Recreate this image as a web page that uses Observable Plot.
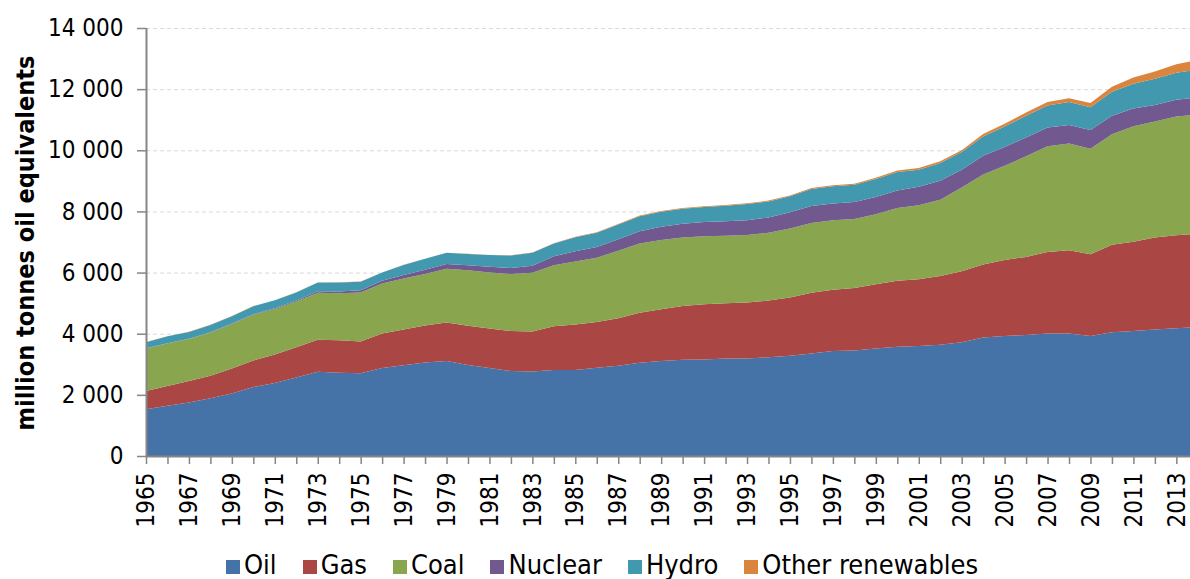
<!DOCTYPE html>
<html>
<head>
<meta charset="utf-8">
<script src="https://cdn.jsdelivr.net/npm/d3@7"></script>
<script src="https://cdn.jsdelivr.net/npm/@observablehq/plot@0.6"></script>
<style>
  html, body { margin: 0; padding: 0; background: #fff; }
  #wrap { position: relative; width: 1190px; height: 579px; overflow: hidden; background: #fff;
          font-family: "DejaVu Sans Condensed", "DejaVu Sans", sans-serif; }
  #ytitle { position: absolute; left: 25px; top: 243px; transform: translate(-50%, -50%) rotate(-90deg);
            white-space: nowrap; font-weight: bold; font-size: 25px; color: #000; }
  #legend { position: absolute; left: 226px; top: 551px; display: flex; font-size: 27px; line-height: 27px; color: #000; white-space: nowrap; }
  #legend .item { margin-right: 26px; }
  #legend .sw { display: inline-block; width: 14px; height: 14px; margin-right: 4px; vertical-align: baseline; }
</style>
</head>
<body>
<div id="wrap">
  <div id="chart"></div>
  <div id="ytitle">million tonnes oil equivalents</div>
  <div id="legend"></div>
</div>
<script>
const years = [1965,1966,1967,1968,1969,1970,1971,1972,1973,1974,1975,1976,1977,1978,1979,1980,1981,1982,1983,1984,1985,1986,1987,1988,1989,1990,1991,1992,1993,1994,1995,1996,1997,1998,1999,2000,2001,2002,2003,2004,2005,2006,2007,2008,2009,2010,2011,2012,2013,2014];

const sources = ["Oil", "Gas", "Coal", "Nuclear", "Hydro", "Other renewables"];
const colors = ["#4572A7", "#AA4643", "#89A54E", "#71588F", "#4198AF", "#DB843D"];

const oil = [1530,1645,1750,1890,2045,2255,2385,2570,2755,2725,2705,2878,2970,3055,3105,2975,2875,2780,2760,2812,2810,2885,2955,3050,3105,3150,3155,3190,3190,3230,3280,3350,3435,3455,3520,3575,3600,3640,3720,3880,3925,3960,4005,4005,3925,4050,4090,4140,4180,4211];
const gas = [600,643,700,735,815,870,935,990,1045,1065,1040,1130,1168,1210,1262,1285,1295,1305,1310,1435,1490,1495,1550,1635,1695,1755,1805,1810,1830,1855,1908,1990,2005,2038,2095,2160,2185,2245,2320,2380,2487,2553,2670,2726,2673,2857,2922,3010,3042,3066];
const coal = [1385,1396,1380,1415,1460,1495,1490,1495,1540,1530,1600,1637,1670,1690,1760,1820,1835,1865,1925,1995,2060,2105,2210,2265,2265,2240,2225,2205,2205,2215,2257,2285,2270,2260,2290,2378,2420,2500,2740,2944,3080,3290,3457,3490,3455,3620,3773,3790,3880,3900];
const nuclear = [6,8,9,12,14,18,25,32,46,57,80,90,115,135,150,162,186,200,225,290,335,350,375,405,435,455,470,475,490,505,525,550,548,553,570,575,600,615,580,620,615,615,611,605,611,605,580,540,550,560];
const hydro = [203,222,220,237,240,262,260,265,290,300,278,265,325,360,370,365,380,410,425,420,460,465,480,490,490,485,490,505,525,520,525,560,565,565,585,600,560,585,580,630,670,715,720,750,745,785,815,860,885,900];
const renewables = [2,2,2,2,3,3,3,3,3,4,4,4,5,5,5,6,7,8,9,11,13,15,17,19,22,25,26,27,28,29,30,32,35,38,42,48,52,58,65,75,88,100,118,125,135,163,197,235,275,317];

const yTicks = [0,2000,4000,6000,8000,10000,12000,14000];
const xTicks = years.filter(y => y <= 2013);

const series = [oil, gas, coal, nuclear, hydro, renewables];
const table = [];
sources.forEach((s, i) => years.forEach((yr, j) => table.push({year: yr, source: s, value: series[i][j]})));

const fmt = d3.formatLocale({decimal: ",", thousands: " ", grouping: [3], currency: ["", ""]}).format(",d");
const font = "'DejaVu Sans Condensed', 'DejaVu Sans', sans-serif";

const chart = Plot.plot({
  width: 1190,
  height: 540,
  marginLeft: 146,
  marginRight: 0,
  marginTop: 28,
  marginBottom: 84,
  x: {type: "linear", domain: [1965, 2014], range: [146, 1197.8]},
  y: {domain: [0, 14000]},
  color: {domain: sources, range: colors},
  style: {fontFamily: font, fontSize: "24px", background: "white", color: "black", overflow: "hidden"},
  marks: [
    Plot.gridY(yTicks.filter(d => d > 0), {stroke: "#d9d9d9", strokeOpacity: 1, strokeWidth: 1, strokeDasharray: "4,3"}),
    Plot.areaY(table, {x: "year", y: "value", fill: "source", order: sources, clip: "frame"}),
    Plot.ruleY([0], {stroke: "#868686", strokeWidth: 2}),
    Plot.ruleX([1965], {stroke: "#868686", strokeWidth: 2}),
    Plot.axisY({ticks: yTicks, tickFormat: fmt, tickSize: 9, tickPadding: 14, fontSize: 24, stroke: "#868686", strokeWidth: 1.5, fill: "black", label: null}),
    Plot.axisX({ticks: xTicks, tickFormat: d => (d % 2 === 1 ? String(d) : ""), tickRotate: -90, tickSize: 8, tickPadding: 8, fontSize: 24, stroke: "#868686", strokeWidth: 1.5, fill: "black", label: null})
  ]
});
document.getElementById("chart").appendChild(chart);

const legend = document.getElementById("legend");
sources.forEach((s, i) => {
  const item = document.createElement("span");
  item.className = "item";
  const sw = document.createElement("span");
  sw.className = "sw";
  sw.style.background = colors[i];
  item.appendChild(sw);
  item.appendChild(document.createTextNode(s));
  legend.appendChild(item);
});
</script>
</body>
</html>
